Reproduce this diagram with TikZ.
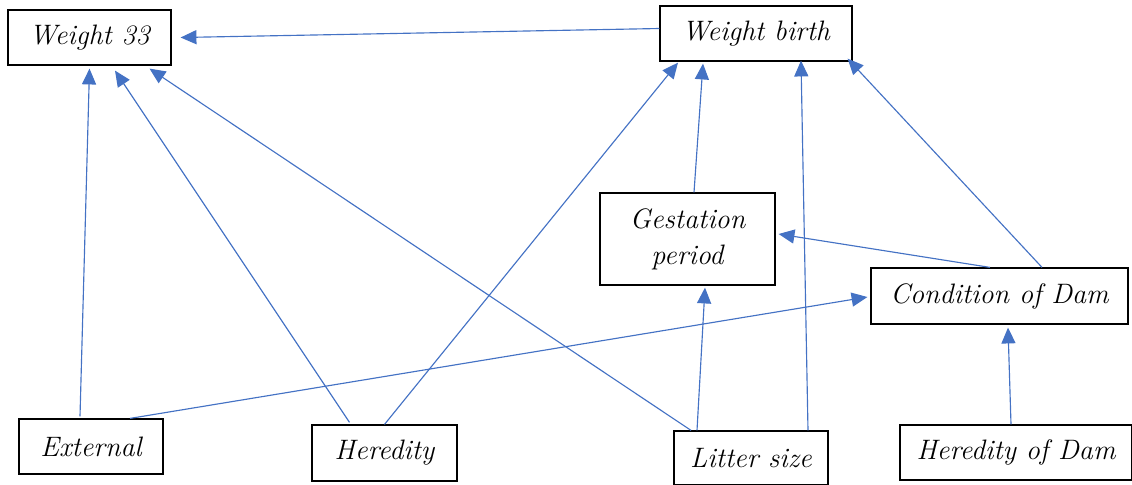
\documentclass[tikz,border=0pt]{standalone}
\usetikzlibrary{arrows.meta}
\definecolor{linkblue}{HTML}{4472C4}
\begin{document}
\begin{tikzpicture}[
	x=0.02cm, y=-0.02cm,
	factor/.style={ draw, line width=0.7pt, align=center, inner sep=0pt, font=\fontsize{16}{20.5}\selectfont\itshape },
	link/.style={ linkblue, line width=0.65pt, -{Triangle[length=9pt,width=8pt]} }
]
\useasboundingbox (0,0) rectangle (1132,484);

\node at (89.5,37.5) (w33) [factor, minimum width=3.26cm, minimum height=1.1cm] {Weight 33};
\node at (756,33.5) (wb) [factor, minimum width=3.84cm, minimum height=1.1cm] {Weight birth};
\node at (687.5,239) (gp) [factor, minimum width=3.5cm, minimum height=1.84cm] {Gestation\\period};
\node at (999.5,296) (cd) [factor, minimum width=5.14cm, minimum height=1.12cm] {Condition of Dam};
\node at (91,446.5) (ext) [factor, minimum width=2.88cm, minimum height=1.1cm] {External};
\node at (384.5,453) (her) [factor, minimum width=2.9cm, minimum height=1.12cm] {Heredity};
\node at (751,458) (ls) [factor, minimum width=3.08cm, minimum height=1.08cm] {Litter size};
\node at (1016,452.5) (hd) [factor, minimum width=4.64cm, minimum height=1.1cm] {Heredity of Dam};

\draw[link] ([shift={(0,-5)}]wb.west) to ([shift={(9,0)}]w33.east);
\draw[link] ([shift={(-11,-2)}]ext.north) to ([shift={(0,3)}]w33.south);
\draw[link] ([shift={(-35,-2)}]her.north) to ([shift={(25.5,5)}]w33.south);
\draw[link] ([shift={(-60,0)}]ls.north) to ([shift={(60,3)}]w33.south);
\draw[link] (her.north) to ([shift={(-78,1)}]wb.south);
\draw[link] ([shift={(6.5,0)}]gp.north) to ([shift={(-53,2)}]wb.south);
\draw[link] ([shift={(57,0)}]ls.north) to ([shift={(45,-1)}]wb.south);
\draw[link] ([shift={(42.5,0)}]cd.north) to ([shift={(-5,-3)}]wb.south east);
\draw[link] ([shift={(-9.5,0)}]cd.north) to ([shift={(3,-5)}]gp.east);
\draw[link] ([shift={(39,0)}]ext.north) to ([shift={(-3,1)}]cd.west);
\draw[link] ([shift={(-54,0)}]ls.north) to ([shift={(17.5,2)}]gp.south);
\draw[link] ([shift={(-5,0)}]hd.north) to ([shift={(8.5,3)}]cd.south);

\end{tikzpicture}
\end{document}
